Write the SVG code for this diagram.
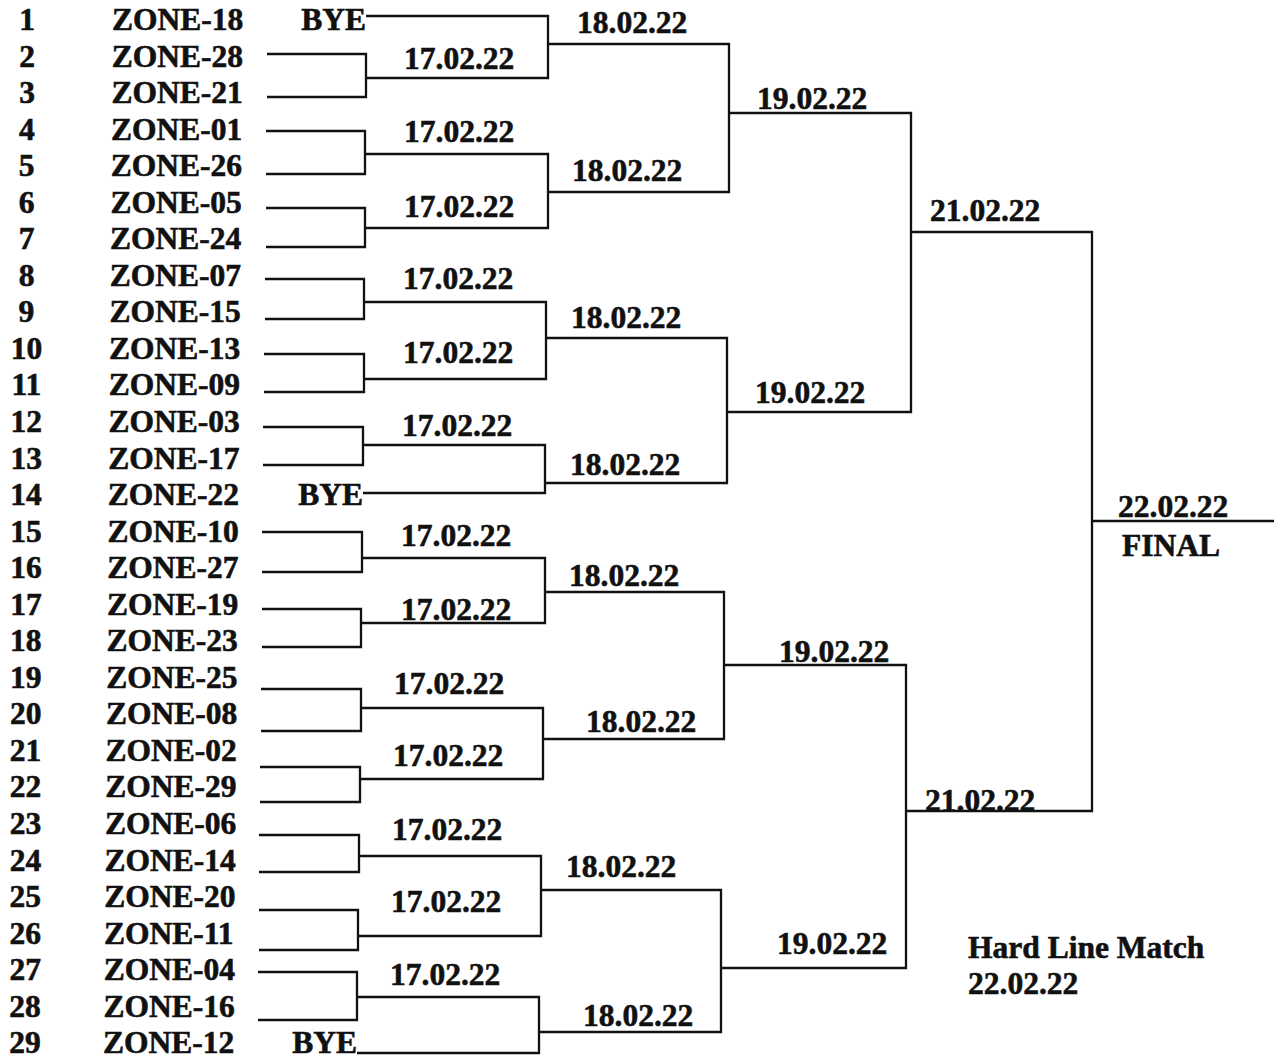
<svg xmlns="http://www.w3.org/2000/svg" width="1274" height="1060" viewBox="0 0 1274 1060">
<style>
text{font-family:"Liberation Serif","Times New Roman",serif;font-weight:bold;font-size:31.5px;fill:#111;stroke:#111;stroke-width:0.6px}
.n{text-anchor:middle}
.e{text-anchor:end}
.c{fill:none;stroke:#111;stroke-width:2.3}
</style>
<rect width="1274" height="1060" fill="#fff"/>
<g id="connectors" class="c">
<path d="M267 54H366V97H267"/>
<path d="M266 131H365V174H266"/>
<path d="M266 208H365V247H266"/>
<path d="M265 279H364V319H265"/>
<path d="M264 354H364V392H264"/>
<path d="M263 427H363V465H263"/>
<path d="M262 532H362V572H262"/>
<path d="M262 609H361V647H262"/>
<path d="M261 689H361V731H261"/>
<path d="M260 767H360V802H260"/>
<path d="M259 835H359V872H259"/>
<path d="M259 910H358V950H259"/>
<path d="M258 972H357V1020H258"/>
<path d="M366 16H548V78H366"/>
<path d="M365 154H548V228H365"/>
<path d="M364 302H546V379H364"/>
<path d="M363 445H545V493H363"/>
<path d="M362 558H545V623H361"/>
<path d="M361 708H543V779H360"/>
<path d="M359 856H541V936H358"/>
<path d="M357 997H539V1053H357"/>
<path d="M548 44H729V192H548"/>
<path d="M546 338H727V483H545"/>
<path d="M545 592H724V739H543"/>
<path d="M541 890H721V1032H539"/>
<path d="M729 113H911V412H727"/>
<path d="M724 665H906V968H721"/>
<path d="M911 232H1092V811H906"/>
<path d="M1092 521H1274"/>
</g>
<g id="teams">
<g id="t1"><text class="n" x="27" y="30">1</text><text x="112" y="30">ZONE-18</text><text class="e" x="366" y="30">BYE</text></g>
<g id="t2"><text class="n" x="27" y="66.5">2</text><text x="111.7" y="66.5">ZONE-28</text></g>
<g id="t3"><text class="n" x="27" y="103">3</text><text x="111.4" y="103">ZONE-21</text></g>
<g id="t4"><text class="n" x="26.8" y="139.5">4</text><text x="111" y="139.5">ZONE-01</text></g>
<g id="t5"><text class="n" x="26.7" y="176">5</text><text x="110.7" y="176">ZONE-26</text></g>
<g id="t6"><text class="n" x="26.6" y="212.5">6</text><text x="110.4" y="212.5">ZONE-05</text></g>
<g id="t7"><text class="n" x="26.6" y="249">7</text><text x="110.1" y="249">ZONE-24</text></g>
<g id="t8"><text class="n" x="26.5" y="286">8</text><text x="109.8" y="286">ZONE-07</text></g>
<g id="t9"><text class="n" x="26.4" y="322">9</text><text x="109.4" y="322">ZONE-15</text></g>
<g id="t10"><text class="n" x="26.4" y="359">10</text><text x="109.1" y="359">ZONE-13</text></g>
<g id="t11"><text class="n" x="26.3" y="395">11</text><text x="108.8" y="395">ZONE-09</text></g>
<g id="t12"><text class="n" x="26.2" y="432">12</text><text x="108.5" y="432">ZONE-03</text></g>
<g id="t13"><text class="n" x="26.2" y="468.5">13</text><text x="108.2" y="468.5">ZONE-17</text></g>
<g id="t14"><text class="n" x="26.1" y="505">14</text><text x="107.8" y="505">ZONE-22</text><text class="e" x="363" y="505">BYE</text></g>
<g id="t15"><text class="n" x="26" y="541.5">15</text><text x="107.5" y="541.5">ZONE-10</text></g>
<g id="t16"><text class="n" x="26" y="578">16</text><text x="107.2" y="578">ZONE-27</text></g>
<g id="t17"><text class="n" x="25.9" y="614.5">17</text><text x="106.9" y="614.5">ZONE-19</text></g>
<g id="t18"><text class="n" x="25.8" y="651">18</text><text x="106.6" y="651">ZONE-23</text></g>
<g id="t19"><text class="n" x="25.7" y="687.5">19</text><text x="106.2" y="687.5">ZONE-25</text></g>
<g id="t20"><text class="n" x="25.7" y="724">20</text><text x="105.9" y="724">ZONE-08</text></g>
<g id="t21"><text class="n" x="25.6" y="760.5">21</text><text x="105.6" y="760.5">ZONE-02</text></g>
<g id="t22"><text class="n" x="25.5" y="797">22</text><text x="105.3" y="797">ZONE-29</text></g>
<g id="t23"><text class="n" x="25.5" y="834">23</text><text x="105" y="834">ZONE-06</text></g>
<g id="t24"><text class="n" x="25.4" y="870.5">24</text><text x="104.6" y="870.5">ZONE-14</text></g>
<g id="t25"><text class="n" x="25.3" y="907">25</text><text x="104.3" y="907">ZONE-20</text></g>
<g id="t26"><text class="n" x="25.2" y="943.5">26</text><text x="104" y="943.5">ZONE-11</text></g>
<g id="t27"><text class="n" x="25.2" y="980">27</text><text x="103.7" y="980">ZONE-04</text></g>
<g id="t28"><text class="n" x="25.1" y="1016.5">28</text><text x="103.4" y="1016.5">ZONE-16</text></g>
<g id="t29"><text class="n" x="25" y="1053">29</text><text x="103" y="1053">ZONE-12</text><text class="e" x="357" y="1053">BYE</text></g>
</g>
<g id="matches">
<g id="r1-1"><text x="404" y="69">17.02.22</text></g>
<g id="r1-2"><text x="404" y="142">17.02.22</text></g>
<g id="r1-3"><text x="404" y="217">17.02.22</text></g>
<g id="r1-4"><text x="403" y="289">17.02.22</text></g>
<g id="r1-5"><text x="403" y="363">17.02.22</text></g>
<g id="r1-6"><text x="402" y="436">17.02.22</text></g>
<g id="r1-7"><text x="401" y="546">17.02.22</text></g>
<g id="r1-8"><text x="401" y="620">17.02.22</text></g>
<g id="r1-9"><text x="394" y="694">17.02.22</text></g>
<g id="r1-10"><text x="393" y="766">17.02.22</text></g>
<g id="r1-11"><text x="392" y="840">17.02.22</text></g>
<g id="r1-12"><text x="391" y="912">17.02.22</text></g>
<g id="r1-13"><text x="390" y="985">17.02.22</text></g>
<g id="r2-1"><text x="577" y="33">18.02.22</text></g>
<g id="r2-2"><text x="572" y="181">18.02.22</text></g>
<g id="r2-3"><text x="571" y="328">18.02.22</text></g>
<g id="r2-4"><text x="570" y="475">18.02.22</text></g>
<g id="r2-5"><text x="569" y="586">18.02.22</text></g>
<g id="r2-6"><text x="586" y="732">18.02.22</text></g>
<g id="r2-7"><text x="566" y="877">18.02.22</text></g>
<g id="r2-8"><text x="583" y="1026">18.02.22</text></g>
<g id="r3-1"><text x="757" y="109">19.02.22</text></g>
<g id="r3-2"><text x="755" y="403">19.02.22</text></g>
<g id="r3-3"><text x="779" y="662">19.02.22</text></g>
<g id="r3-4"><text x="777" y="954">19.02.22</text></g>
<g id="r4-1"><text x="930" y="221">21.02.22</text></g>
<g id="r4-2"><text x="925" y="811">21.02.22</text></g>
<g id="final"><text x="1118" y="517">22.02.22</text><text x="1122" y="556">FINAL</text></g>
<g id="note"><text x="968" y="958">Hard Line Match</text><text x="968" y="994">22.02.22</text></g>
</g>
</svg>
